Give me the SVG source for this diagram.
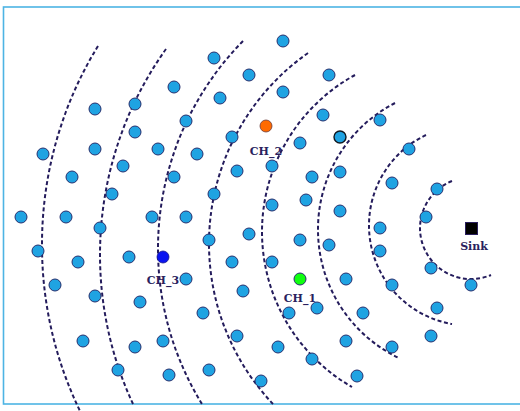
<svg xmlns="http://www.w3.org/2000/svg" width="520" height="411" viewBox="0 0 520 411">
<style>
.frame{fill:none;stroke:#4db4e4;stroke-width:1.6}
.arc{fill:none;stroke:#241c5c;stroke-width:2;stroke-dasharray:4 2.6}
.n{fill:#1fa3e2;stroke:#27306e;stroke-width:1}
.lbl{font-family:"DejaVu Serif",serif;font-size:11px;font-weight:bold;fill:#2a1f5e;text-anchor:middle}
</style>
<rect width="520" height="411" fill="#ffffff"/>
<rect class="frame" x="3.5" y="7" width="520" height="397"/>
<g id="connectors">
<path class="arc" d="M452 181 A51 51 0 0 0 420 228 A51 51 0 0 0 491 275"/>
<path class="arc" d="M426 135 A100 100 0 0 0 369 225 A100 100 0 0 0 452 324"/>
<path class="arc" d="M395 103 A142 142 0 0 0 318 230 A142 142 0 0 0 399 358"/>
<path class="arc" d="M355 75 A179 179 0 0 0 262 232 A179 179 0 0 0 352 387"/>
<path class="arc" d="M308 53 A233 233 0 0 0 209 244 A233 233 0 0 0 273 404"/>
<path class="arc" d="M243 41 A296 296 0 0 0 158 249 A296 296 0 0 0 202 404"/>
<path class="arc" d="M166 49 A354 354 0 0 0 100 255 A354 354 0 0 0 133 404"/>
<path class="arc" d="M98 46 A379 379 0 0 0 42 244 A379 379 0 0 0 80 411"/>
</g>
<g id="sensors">
<circle class="n" cx="214" cy="58" r="6"/><circle class="n" cx="249" cy="75" r="6"/><circle class="n" cx="174" cy="87" r="6"/><circle class="n" cx="220" cy="98" r="6"/><circle class="n" cx="95" cy="109" r="6"/><circle class="n" cx="135" cy="104" r="6"/><circle class="n" cx="135" cy="132" r="6"/><circle class="n" cx="186" cy="121" r="6"/><circle class="n" cx="232" cy="137" r="6"/><circle class="n" cx="43" cy="154" r="6"/><circle class="n" cx="95" cy="149" r="6"/><circle class="n" cx="158" cy="149" r="6"/><circle class="n" cx="197" cy="154" r="6"/><circle class="n" cx="123" cy="166" r="6"/><circle class="n" cx="72" cy="177" r="6"/><circle class="n" cx="174" cy="177" r="6"/><circle class="n" cx="237" cy="171" r="6"/><circle class="n" cx="112" cy="194" r="6"/><circle class="n" cx="214" cy="194" r="6"/>
<circle class="n" cx="283" cy="41" r="6"/><circle class="n" cx="329" cy="75" r="6"/><circle class="n" cx="283" cy="92" r="6"/><circle class="n" cx="323" cy="115" r="6"/><circle class="n" cx="380" cy="120" r="6"/><circle class="n" cx="300" cy="143" r="6"/><circle class="n" cx="409" cy="149" r="6"/><circle class="n" cx="272" cy="166" r="6"/><circle class="n" cx="312" cy="177" r="6"/><circle class="n" cx="340" cy="172" r="6"/><circle class="n" cx="392" cy="183" r="6"/><circle class="n" cx="437" cy="189" r="6"/><circle class="n" cx="272" cy="205" r="6"/><circle class="n" cx="306" cy="200" r="6"/>
<circle class="n" cx="21" cy="217" r="6"/><circle class="n" cx="66" cy="217" r="6"/><circle class="n" cx="100" cy="228" r="6"/><circle class="n" cx="152" cy="217" r="6"/><circle class="n" cx="186" cy="217" r="6"/><circle class="n" cx="209" cy="240" r="6"/><circle class="n" cx="249" cy="234" r="6"/><circle class="n" cx="38" cy="251" r="6"/><circle class="n" cx="78" cy="262" r="6"/><circle class="n" cx="129" cy="257" r="6"/><circle class="n" cx="232" cy="262" r="6"/><circle class="n" cx="55" cy="285" r="6"/><circle class="n" cx="95" cy="296" r="6"/><circle class="n" cx="140" cy="302" r="6"/><circle class="n" cx="186" cy="279" r="6"/><circle class="n" cx="203" cy="313" r="6"/><circle class="n" cx="243" cy="291" r="6"/><circle class="n" cx="83" cy="341" r="6"/><circle class="n" cx="135" cy="347" r="6"/><circle class="n" cx="163" cy="341" r="6"/><circle class="n" cx="237" cy="336" r="6"/><circle class="n" cx="118" cy="370" r="6"/><circle class="n" cx="169" cy="375" r="6"/><circle class="n" cx="209" cy="370" r="6"/><circle class="n" cx="261" cy="381" r="6"/>
<circle class="n" cx="340" cy="211" r="6"/><circle class="n" cx="426" cy="217" r="6"/><circle class="n" cx="380" cy="228" r="6"/><circle class="n" cx="300" cy="240" r="6"/><circle class="n" cx="329" cy="245" r="6"/><circle class="n" cx="380" cy="251" r="6"/><circle class="n" cx="272" cy="262" r="6"/><circle class="n" cx="431" cy="268" r="6"/><circle class="n" cx="346" cy="279" r="6"/><circle class="n" cx="392" cy="285" r="6"/><circle class="n" cx="471" cy="285" r="6"/><circle class="n" cx="289" cy="313" r="6"/><circle class="n" cx="317" cy="308" r="6"/><circle class="n" cx="363" cy="313" r="6"/><circle class="n" cx="437" cy="308" r="6"/><circle class="n" cx="346" cy="341" r="6"/><circle class="n" cx="392" cy="347" r="6"/><circle class="n" cx="431" cy="336" r="6"/><circle class="n" cx="278" cy="347" r="6"/><circle class="n" cx="312" cy="359" r="6"/><circle class="n" cx="357" cy="376" r="6"/>
<circle cx="340" cy="137" r="6" fill="#1fa3e2" stroke="#101820" stroke-width="1.4"/>
</g>
<g id="ch2"><circle cx="266" cy="126" r="6" fill="#ff6a00" stroke="#6a3a3a" stroke-width="0.8"/><text class="lbl" x="266" y="155">CH_2</text></g>
<g id="ch3"><circle cx="163" cy="257" r="6" fill="#0a14f0" stroke="#1a1a8a" stroke-width="0.8"/><text class="lbl" x="163" y="284">CH_3</text></g>
<g id="ch1"><circle cx="300" cy="279" r="6" fill="#10ff10" stroke="#27306e" stroke-width="1"/><text class="lbl" x="300" y="302">CH_1</text></g>
<g id="sink"><rect x="465.5" y="222.5" width="12" height="12" fill="#000000" stroke="#2a1f5e" stroke-width="1"/><text class="lbl" x="474" y="250">Sink</text></g>
</svg>
